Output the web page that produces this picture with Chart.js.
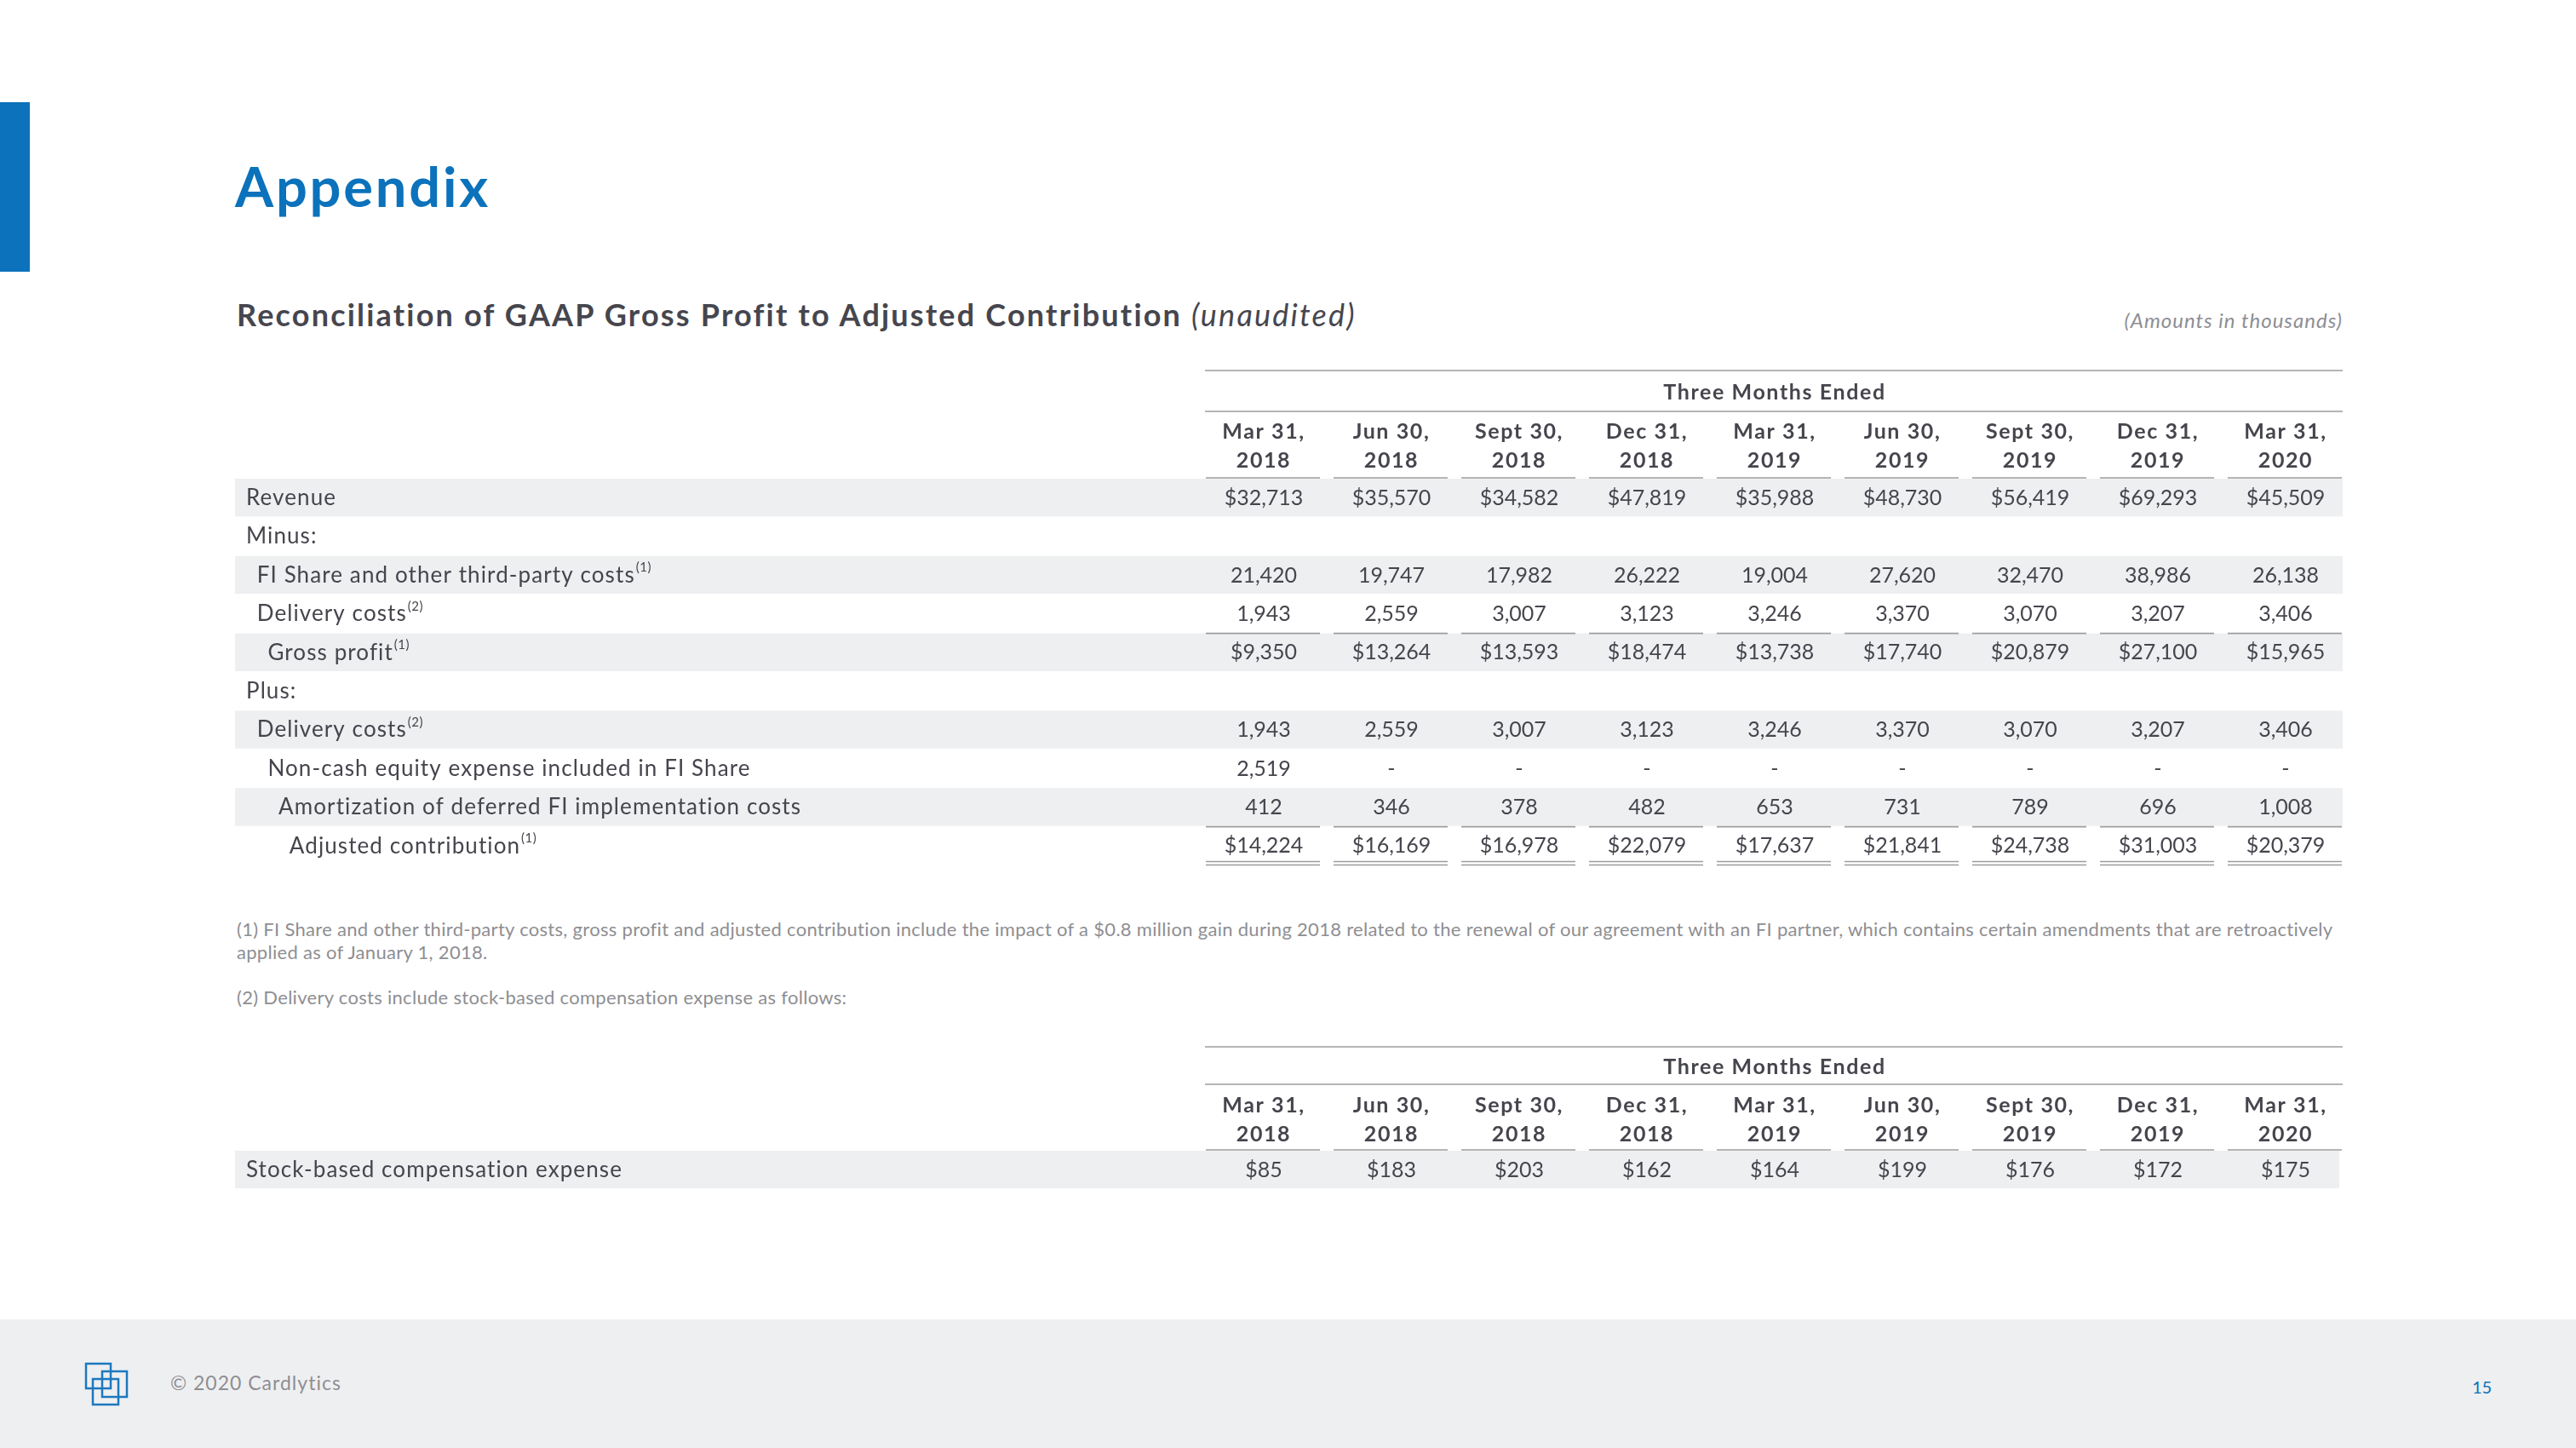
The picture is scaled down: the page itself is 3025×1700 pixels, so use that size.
<!DOCTYPE html>
<html><head><meta charset="utf-8">
<script src="https://cdn.jsdelivr.net/npm/chart.js@4.4.1/dist/chart.umd.min.js"></script>
<style>
html,body{margin:0;padding:0;background:#fff;}
body{width:3025px;height:1700px;position:relative;overflow:hidden;font-family:Lato,"Open Sans",sans-serif;}
.abs{position:absolute;white-space:nowrap;line-height:1;}
.fn{font-size:22px;color:#8e8e92;left:278px;letter-spacing:0.3px;}
</style></head><body>
<div class="abs" style="left:0;top:120px;width:35px;height:199px;background:#0b72bb"></div>
<div class="abs" style="left:276px;top:186px;font-size:65px;font-weight:700;color:#0b72bb;letter-spacing:2.8px">Appendix</div>
<div class="abs" style="left:278px;top:351px;font-size:36px;font-weight:700;color:#46464e;letter-spacing:2.2px">Reconciliation of GAAP Gross Profit to Adjusted Contribution <span style="font-weight:400;font-style:italic">(unaudited)</span></div>
<div class="abs" style="right:274px;top:364px;font-size:24px;font-style:italic;color:#8e8e93;letter-spacing:1px">(Amounts in thousands)</div>

<div class="abs fn" style="top:1080px">(1) FI Share and other third-party costs, gross profit and adjusted contribution include the impact of a $0.8 million gain during 2018 related to the renewal of our agreement with an FI partner, which contains certain amendments that are retroactively</div>
<div class="abs fn" style="top:1107px">applied as of January 1, 2018.</div>
<div class="abs fn" style="top:1160px">(2) Delivery costs include stock-based compensation expense as follows:</div>

<div style="position:absolute;left:0;top:0;width:3025px;height:1030px"><canvas id="t1"></canvas></div>
<div style="position:absolute;left:0;top:1200px;width:3025px;height:210px"><canvas id="t2"></canvas></div>

<div class="abs" style="left:0;top:1549px;width:3025px;height:151px;background:#eeeff1"></div>
<svg class="abs" style="left:95px;top:1595px" width="60" height="60" viewBox="95 1595 60 60">
  <rect x="101" y="1601" width="29" height="29" fill="none" stroke="#1d78be" stroke-width="2.5"/>
  <rect x="120" y="1610" width="29" height="30" fill="none" stroke="#1d78be" stroke-width="2.5"/>
  <rect x="109" y="1619" width="30" height="30" fill="none" stroke="#1d78be" stroke-width="2.5"/>
</svg>
<div class="abs" style="left:200px;top:1612px;font-size:23px;color:#8e8e92;letter-spacing:1px">© 2020 Cardlytics</div>
<div class="abs" style="left:2903px;top:1618px;font-size:20px;color:#0b72bb">15</div>

<script>
// ---------- data ----------
const quarters = ["Mar 31, 2018","Jun 30, 2018","Sept 30, 2018","Dec 31, 2018","Mar 31, 2019","Jun 30, 2019","Sept 30, 2019","Dec 31, 2019","Mar 31, 2020"];
const rowLabels = ["Revenue","Minus:","FI Share and other third-party costs","Delivery costs","Gross profit","Plus:","Delivery costs","Non-cash equity expense included in FI Share","Amortization of deferred FI implementation costs","Adjusted contribution"];
const rowNotes = ["","","(1)","(2)","(1)","","(2)","","","(1)"];
const revenue = [32713,35570,34582,47819,35988,48730,56419,69293,45509];
const fiShare = [21420,19747,17982,26222,19004,27620,32470,38986,26138];
const deliveryCosts = [1943,2559,3007,3123,3246,3370,3070,3207,3406];
const grossProfit = [9350,13264,13593,18474,13738,17740,20879,27100,15965];
const nonCashEquity = [2519,null,null,null,null,null,null,null,null];
const amortization = [412,346,378,482,653,731,789,696,1008];
const adjustedContribution = [14224,16169,16978,22079,17637,21841,24738,31003,20379];
const sbcLabels = ["Stock-based compensation expense"];
const sbcNotes = [""];
const stockComp = [85,183,203,162,164,199,176,172,175];

// ---------- styling ----------
const FONT = 'Lato';
const TXT = '#45454d';
const LINE = '#9d9da1';
const BAND = '#eeeff1';

function fmt(v, prefix){ return v == null ? '-' : prefix + v.toLocaleString('en-US'); }
function splitQ(q){ const i = q.lastIndexOf(' '); return [q.slice(0,i), q.slice(i+1)]; }

const tablePlugin = {
  id: 'tablePlugin',
  beforeDraw(chart){ chart.ctx.letterSpacing = '1.6px'; },
  afterDraw(chart){ chart.ctx.letterSpacing = '0px'; },
  beforeDatasetsDraw(chart, args, o){
    const ctx = chart.ctx, x = chart.scales.x, y = chart.scales.y;
    const n = chart.data.labels.length;
    const cw = x.width / n;
    ctx.save();
    ctx.fillStyle = BAND;
    o.stripes.forEach(r => {
      const t = y.getPixelForValue(r - 0.5), b = y.getPixelForValue(r + 0.5);
      ctx.fillRect(o.bandLeft, t, o.bandRight - o.bandLeft, b - t - 1);
    });
    ctx.strokeStyle = LINE; ctx.lineWidth = 1.6;
    const hl = (x1, x2, yy) => { ctx.beginPath(); ctx.moveTo(x1, yy); ctx.lineTo(x2, yy); ctx.stroke(); };
    hl(x.left + 6, x.right - 8, x.top + 1);
    hl(x.left + 6, x.right - 8, x.top + o.titleRule);
    const colRule = (yy) => { for (let j = 0; j < n; j++) { const c = x.getPixelForValue(j); hl(c - cw/2 + 7, c + cw/2 - 9, yy); } };
    colRule(chart.chartArea.top - 1);
    o.singleRules.forEach(r => colRule(y.getPixelForValue(r)));
    o.doubleRules.forEach(r => { const yy = y.getPixelForValue(r); colRule(yy - 4.5); colRule(yy - 0.5); });
    ctx.restore();
  },
  afterDatasetsDraw(chart, args, o){
    const ctx = chart.ctx, y = chart.scales.y;
    ctx.save();
    ctx.fillStyle = TXT;
    ctx.textBaseline = 'middle';
    ctx.letterSpacing = '0px';
    ctx.font = '25px ' + FONT;
    ctx.textAlign = 'center';
    chart.data.datasets.forEach((ds, di) => {
      const meta = chart.getDatasetMeta(di);
      meta.data.forEach((el, j) => ctx.fillText(fmt(ds.values[j], ds.prefix), el.x, el.y));
    });
    ctx.textAlign = 'left';
    o.rowLabels.forEach((lab, r) => {
      const yy = y.getPixelForValue(r);
      const xx = o.labelX + o.indent[r] * 12.7;
      ctx.font = '26px ' + FONT;
      ctx.letterSpacing = '1.1px';
      ctx.fillText(lab, xx, yy);
      if (o.notes[r]) {
        const w = ctx.measureText(lab).width;
        ctx.font = '15px ' + FONT;
        ctx.letterSpacing = '0.5px';
        ctx.fillText(o.notes[r], xx + w + 1, yy - 9);
      }
    });
    ctx.restore();
  }
};

function tableChart(id, rows, labels, notes, cfg){
  const datasets = rows.map(rw => ({
    data: rw.values.map((v, j) => ({x: quarters[j], y: rw.row})),
    values: rw.values, prefix: rw.prefix || '',
    showLine: false, pointRadius: 0, pointHoverRadius: 0, borderWidth: 0
  }));
  return new Chart(document.getElementById(id), {
    type: 'line',
    data: {labels: quarters, datasets},
    plugins: [tablePlugin],
    options: {
      responsive: true, maintainAspectRatio: false, animation: false, events: [],
      layout: {padding: {left: 1409, right: 266, top: cfg.padTop, bottom: 14}},
      plugins: {
        legend: {display: false}, tooltip: {enabled: false},
        tablePlugin: {
          stripes: cfg.stripes, bandLeft: 276, bandRight: cfg.bandRight,
          titleRule: cfg.titleRule, singleRules: cfg.singleRules, doubleRules: cfg.doubleRules,
          rowLabels: labels, notes: notes, indent: cfg.indent, labelX: 289
        }
      },
      scales: {
        x: {
          type: 'category', position: 'top', offset: true,
          grid: {display: false, drawTicks: false}, border: {display: false},
          ticks: {autoSkip: false, maxRotation: 0, minRotation: 0, padding: cfg.tickPad, color: TXT,
                  font: {family: FONT, size: 25, weight: 'bold', lineHeight: 34/25},
                  callback: (v, i) => splitQ(quarters[i])},
          title: {display: true, text: 'Three Months Ended', color: TXT,
                  font: {family: FONT, size: 25, weight: 'bold', lineHeight: 1.2},
                  padding: {top: cfg.titlePad, bottom: 0}},
          afterFit: s => { s.height = cfg.axisH; }
        },
        y: {type: 'linear', display: false, min: -0.5, max: labels.length - 0.5, reverse: true}
      }
    }
  });
}

tableChart('t1', [
  {row: 0, values: revenue, prefix: '$'},
  {row: 2, values: fiShare},
  {row: 3, values: deliveryCosts},
  {row: 4, values: grossProfit, prefix: '$'},
  {row: 6, values: deliveryCosts},
  {row: 7, values: nonCashEquity},
  {row: 8, values: amortization},
  {row: 9, values: adjustedContribution, prefix: '$'}
], rowLabels, rowNotes, {
  padTop: 434, axisH: 128, tickPad: 4, titlePad: 12, titleRule: 49,
  stripes: [0,2,4,6,8], bandRight: 2751, singleRules: [3.5, 8.5], doubleRules: [9.5],
  indent: [0,0,1,1,2,0,1,2,3,4]
});

tableChart('t2', [
  {row: 0, values: stockComp, prefix: '$'}
], sbcLabels, sbcNotes, {
  padTop: 28, axisH: 123, tickPad: 2, titlePad: 10, titleRule: 45,
  stripes: [0], bandRight: 2747, singleRules: [], doubleRules: [],
  indent: [0]
});
</script>
</body></html>
